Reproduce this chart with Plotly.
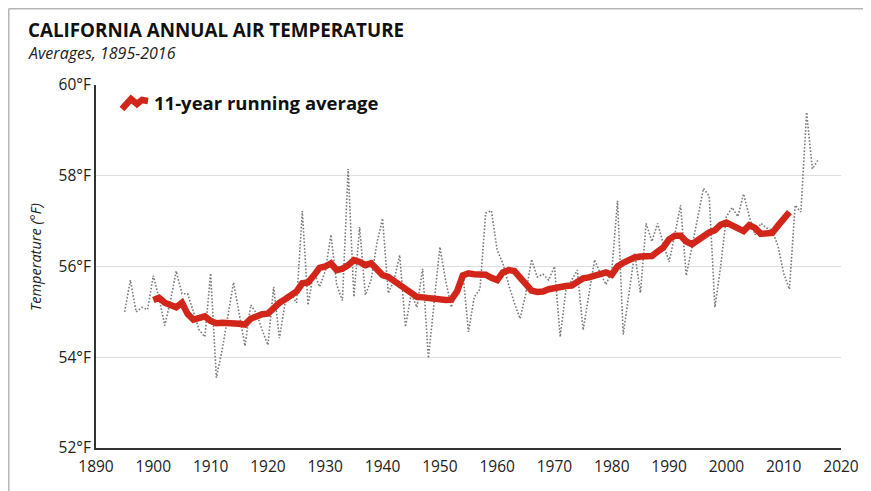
import plotly.graph_objects as go

# annual mean temperature (°F), 1895-2016
years = list(range(1895, 2017))
annual_temp = [
    55.0, 55.7, 55.0, 55.1, 55.05,
    55.8, 55.3, 54.7, 55.25, 55.9, 55.4, 55.4, 55.0, 54.6, 54.45,
    55.85, 53.55, 54.15, 54.9, 55.65, 54.95, 54.25, 55.15, 54.97, 54.6,
    54.27, 55.55, 54.42, 55.2, 55.4, 55.2, 57.22, 55.15, 55.9, 55.55,
    55.9, 56.7, 55.6, 55.25, 58.15, 55.33, 56.87, 55.37, 55.7, 56.5,
    57.06, 55.41, 55.7, 56.25, 54.67, 55.4, 55.1, 55.95, 53.98, 55.2,
    56.43, 55.7, 55.1, 55.55, 55.88, 54.56, 55.33, 55.5, 57.18, 57.23,
    56.36, 56.07, 55.6, 55.2, 54.85, 55.4, 56.16, 55.77, 55.83, 55.7,
    56.0, 54.45, 55.48, 55.7, 55.92, 54.6, 55.4, 56.15, 55.85, 55.6,
    55.9, 57.45, 54.5, 55.4, 56.3, 55.42, 56.95, 56.55, 56.95, 56.5,
    56.1, 56.7, 57.35, 55.8, 56.45, 57.15, 57.72, 57.55, 55.1, 56.0,
    57.1, 57.3, 57.1, 57.6, 57.1, 56.7, 56.95, 56.85, 56.8, 56.45,
    55.85, 55.5, 57.35, 57.2, 59.4, 58.15, 58.35,
]

# 11-year running average, centred, 1900-2011
avg_years = list(range(1900, 2012))
running_avg = [
    55.26, 55.31, 55.2, 55.15, 55.1, 55.2, 54.95, 54.83, 54.88, 54.9,
    54.8, 54.75, 54.76, 54.76, 54.76, 54.74, 54.72, 54.85, 54.9, 54.95,
    54.96, 55.1, 55.2, 55.28, 55.37, 55.45, 55.63, 55.65, 55.8, 55.97,
    56.0, 56.07, 55.92, 55.95, 56.03, 56.14, 56.1, 56.03, 56.07, 55.95,
    55.81, 55.77, 55.68, 55.59, 55.5, 55.45, 55.33, 55.32, 55.3, 55.3,
    55.28, 55.26, 55.27, 55.45, 55.8, 55.85, 55.83, 55.83, 55.82, 55.75,
    55.7, 55.87, 55.92, 55.9, 55.75, 55.6, 55.47, 55.44, 55.45, 55.5,
    55.53, 55.55, 55.57, 55.58, 55.65, 55.74, 55.76, 55.8, 55.83, 55.87,
    55.82, 56.0, 56.08, 56.15, 56.2, 56.22, 56.22, 56.23, 56.33, 56.42,
    56.6, 56.68, 56.68, 56.55, 56.49, 56.58, 56.68, 56.75, 56.8, 56.92,
    56.97, 56.9, 56.82, 56.78, 56.91, 56.85, 56.72, 56.72, 56.74, 56.9,
    57.06, 57.2,
]

x_ticks = list(range(1890, 2021, 10))
y_ticks = [52, 54, 56, 58, 60]
y_labels = [f"{v}°F" for v in y_ticks]

OFF = 8  # page body margin shifts the figure by 8px
W, H = 871 - OFF, 491 - OFF  # keep the figure inside the window
# plot area in window pixels: x 96..841, y 85..448
PL, PR, PT, PB = 96, 841, 85, 448
RED = "#d3261b"
FONT = "Open Sans, Liberation Sans, sans-serif"


def px(x):
    return (x - PL) / (PR - PL)


def py(y):
    return (PB - y) / (PB - PT)


fig = go.Figure()
fig.add_trace(go.Scatter(
    x=years, y=annual_temp, mode="lines",
    line=dict(color="#7a7a7a", width=1.6, dash="1.6px,1.8px"),
    showlegend=False, hoverinfo="x+y",
))
fig.add_trace(go.Scatter(
    x=avg_years, y=running_avg, mode="lines",
    line=dict(color=RED, width=6.5),
    name="11-year running average", showlegend=False,
))

# zigzag legend key
zig = [(122, 109), (131, 99), (137, 104), (142, 100), (148, 101)]
path = "M " + " L ".join(f"{px(a):.4f},{py(b):.4f}" for a, b in zig)
fig.add_shape(type="path", path=path, xref="paper", yref="paper",
              line=dict(color=RED, width=6.5))

# frame of the original graphic (top and left edges)
fig.add_shape(type="line", xref="paper", yref="paper",
              x0=px(OFF + 0.75), x1=px(OFF + W), y0=py(OFF + 0.75), y1=py(OFF + 0.75),
              line=dict(color="#b5b5b5", width=1.5))
fig.add_shape(type="line", xref="paper", yref="paper",
              x0=px(OFF + 0.75), x1=px(OFF + 0.75), y0=py(OFF + 0.75), y1=py(OFF + H),
              line=dict(color="#b5b5b5", width=1.5))

fig.add_annotation(text="<b>11-year running average</b>", x=px(152), y=py(103),
                   xref="paper", yref="paper", xanchor="left", yanchor="middle",
                   showarrow=False, font=dict(size=18.5, color="#111", family=FONT))
fig.add_annotation(text="<b>CALIFORNIA ANNUAL AIR TEMPERATURE</b>", x=px(26), y=py(30),
                   xref="paper", yref="paper", xanchor="left", yanchor="middle",
                   showarrow=False, font=dict(size=18.8, color="#111", family=FONT))
fig.add_annotation(text="<i>Averages, 1895-2016</i>", x=px(26), y=py(52.5),
                   xref="paper", yref="paper", xanchor="left", yanchor="middle",
                   showarrow=False, font=dict(size=16, color="#222", family=FONT))
fig.add_annotation(text="<i>Temperature (°F)</i>", textangle=-90, x=px(35), y=py(257),
                   xref="paper", yref="paper", xanchor="center", yanchor="middle",
                   showarrow=False, font=dict(size=14.5, color="#222", family=FONT))

fig.update_layout(
    width=W, height=H,
    margin=dict(l=PL - OFF, r=W - (PR - OFF), t=PT - OFF, b=H - (PB - OFF)),
    paper_bgcolor="white", plot_bgcolor="white",
    font=dict(family=FONT, size=15.5, color="#222"),
    xaxis=dict(range=[1890, 2020], tickvals=x_ticks, showgrid=False,
               showline=True, linecolor="#333", linewidth=2,
               ticks="", zeroline=False, tickfont=dict(size=15.5),
               ticklabelstandoff=3),
    yaxis=dict(range=[52, 60], tickvals=y_ticks, ticktext=y_labels,
               showgrid=True, gridcolor="#dedede", gridwidth=1,
               showline=True, linecolor="#333", linewidth=2,
               ticks="", zeroline=False, tickfont=dict(size=15.5)),
)

fig.write_html("out.html")
